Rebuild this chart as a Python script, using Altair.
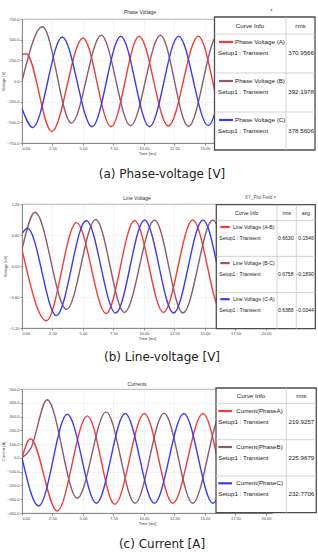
import altair as alt
import pandas as pd

# ---------------- waveform turning points: time [ms], value ----------------
# Phase voltages [V]
pv_a_t = [0.0, 0.35, 2.43, 5.0, 7.3, 9.6, 12.0, 14.46, 16.8, 19.2]
pv_a_v = [321, 330, -612, 521, -553, 541, -545, 541, -545, 541]
pv_b_t = [0.0, 1.68, 4.05, 6.5, 8.9, 11.35, 13.65, 16.05, 18.4]
pv_b_v = [0, 656, -509, 553, -541, 553, -550, 553, -550]
pv_c_t = [0.0, 0.89, 3.3, 5.75, 8.1, 10.45, 12.84, 15.27, 17.6, 20.0]
pv_c_v = [-333, -563, 533, -553, 541, -553, 541, -540, 541, -540]

# Line voltages [kV]
lv_ab_t = [0.0, 2.0, 4.47, 6.9, 9.23, 11.6, 14.0, 16.4, 18.8]
lv_ab_v = [0.32, -1.06, 0.84, -0.92, 0.88, -0.90, 0.89, -0.90, 0.89]
lv_bc_t = [0.0, 1.07, 3.66, 6.04, 8.4, 10.87, 13.2, 15.65, 18.0, 20.4]
lv_bc_v = [0.32, 1.04, -0.84, 0.90, -0.90, 0.89, -0.91, 0.89, -0.90, 0.89]
lv_ca_t = [0.0, 0.45, 2.82, 5.27, 7.68, 10.05, 12.43, 14.84, 17.2, 19.6]
lv_ca_v = [0.63, 0.73, -0.96, 0.88, -0.91, 0.89, -0.91, 0.89, -0.90, 0.89]

# Phase currents [A]
cur_a_t = [0.0, 0.69, 2.88, 5.36, 7.61, 10.03, 12.36, 14.84, 17.2, 19.6]
cur_a_v = [0, 139, -385, 305, -337, 322, -329, 322, -329, 322]
cur_b_t = [0.0, 0.7, 2.06, 4.53, 6.9, 9.27, 11.65, 14.0, 16.4, 18.8]
cur_b_v = [0, 65, 422, -293, 334, -329, 324, -329, 324, -329]
cur_c_t = [0.0, 1.37, 3.71, 6.1, 8.46, 10.85, 13.27, 15.66, 18.0, 20.4]
cur_c_v = [0, -349, 317, -329, 322, -329, 322, -329, 322, -329]

# ---------------- curve-info tables ----------------
pv_names = ["Phase Voltage (A)", "Phase Voltage (B)", "Phase Voltage (C)"]
pv_rms = ["370.9566", "392.1978", "378.5606"]
lv_names = ["Line Voltage (A-B)", "Line Voltage (B-C)", "Line Voltage (C-A)"]
lv_rms = ["0.6630", "0.6758", "0.6388"]
lv_avg = ["0.1546", "-0.1890", "-0.0344"]
cur_names = ["Current(PhaseA)", "Current(PhaseB)", "Current(PhaseC)"]
cur_rms = ["219.9257", "225.9679", "232.7706"]
setup_label = "Setup1 : Transient"

# axis ticks
x_ticks = [0, 2.5, 5, 7.5, 10, 12.5, 15, 17.5, 20]
pv_ticks = [-750, -500, -250, 0, 250, 500, 750]
lv_ticks = [-1.2, -0.6, 0.0, 0.6, 1.2]
cur_ticks = [-400, -300, -200, -100, 0, 100, 200, 300, 400, 500]

COLORS = ["#f03c3c", "#8c5c6c", "#3c3ce8"]
X_DOMAIN = [0, 20.5]
PLOT_W, PLOT_H = 250, 124
UI_FONT = "Liberation Sans"
CAPTION_FONT = "DejaVu Sans"


def waves(names, times, values):
    rows = []
    for name, ts, vs in zip(names, times, values):
        rows += [{"series": name, "t": t, "v": v} for t, v in zip(ts, vs)]
    return pd.DataFrame(rows)


def px_x(field):
    return alt.X(f"{field}:Q", scale=None, axis=None)


def px_y(field):
    return alt.Y(f"{field}:Q", scale=None, axis=None)


def text_layer(rows, size, align="left", color="#222", font=UI_FONT):
    return alt.Chart(pd.DataFrame(rows)).mark_text(
        align=align, baseline="middle", fontSize=size, font=font, color=color
    ).encode(x=px_x("x"), y=px_y("y"), text="label:N")


def table_layers(geo, names, value_cols):
    x1, x2, y1, y2 = geo["box"]
    tops = geo["rows"]
    box = alt.Chart(pd.DataFrame([{"x": x1, "x2": x2, "y": y1, "y2": y2}])).mark_rect(
        fill="white", stroke="#4d4d4d", strokeWidth=1.3
    ).encode(x=px_x("x"), x2="x2:Q", y=px_y("y"), y2="y2:Q")
    seps = [{"x": x1, "x2": x2, "y": y, "y2": y} for y in tops]
    seps += [{"x": c, "x2": c, "y": y1, "y2": y2} for c in geo["cols"]]
    grid = alt.Chart(pd.DataFrame(seps)).mark_rule(color="#c8c8c8", strokeWidth=0.8).encode(
        x=px_x("x"), x2="x2:Q", y=px_y("y"), y2="y2:Q"
    )
    sw = pd.DataFrame([
        {"x": geo["sw"][0], "x2": geo["sw"][1], "y": t + geo["dy1"], "col": c}
        for t, c in zip(tops, COLORS)
    ])
    swatch = alt.Chart(sw).mark_rule(strokeWidth=2.2).encode(
        x=px_x("x"), x2="x2:Q", y=px_y("y"), color=alt.Color("col:N", scale=None)
    )
    fs = geo["font"]
    name_txt = text_layer([{"x": geo["name_x"], "y": t + geo["dy1"], "label": n} for t, n in zip(tops, names)], fs)
    setup_txt = text_layer([{"x": geo["setup_x"], "y": t + geo["dy2"], "label": setup_label} for t in tops], fs)
    layers = [box, grid, swatch, name_txt, setup_txt]
    for xpos, vals in zip(geo["val_x"], value_cols):
        layers.append(text_layer([{"x": xpos, "y": t + geo["dy2"], "label": v} for t, v in zip(tops, vals)], fs, align="right"))
    layers.append(text_layer([{"x": hx, "y": geo["head_y"], "label": h} for h, hx in geo["heads"]], fs, align="center"))
    return layers


def panel(df, names, y_domain, y_ticks, y_fmt, y_title, title, caption, geo, value_cols, extras):
    lines = alt.Chart(df).mark_line(interpolate="monotone", strokeWidth=1.4, clip=True).encode(
        x=alt.X("t:Q", scale=alt.Scale(domain=X_DOMAIN, nice=False, zero=False),
                axis=alt.Axis(values=x_ticks, format=".2f", title="Time [ms]")),
        y=alt.Y("v:Q", scale=alt.Scale(domain=y_domain, nice=False, zero=False),
                axis=alt.Axis(values=y_ticks, format=y_fmt, title=y_title)),
        color=alt.Color("series:N", scale=alt.Scale(domain=names, range=COLORS), legend=None),
    )
    head = text_layer([{"x": title[1], "y": title[2], "label": title[0]}], 5, align="center", color="#333")
    cap = text_layer([{"x": 140, "y": caption[1], "label": caption[0]}], 12, align="center",
                     color="#222", font=CAPTION_FONT)
    layers = [lines] + table_layers(geo, names, value_cols) + [head, cap]
    if extras:
        layers.append(text_layer(extras, 4.5, align="left", color="#555"))
    return alt.layer(*layers).resolve_scale(
        x="independent", y="independent", color="independent"
    ).properties(width=PLOT_W, height=PLOT_H)


geo_a = dict(box=(192.5, 293, -2, 131), cols=[264], rows=[15, 54, 93], sw=(197, 211),
             dy1=8, dy2=19, name_x=213, setup_x=196, val_x=[292],
             heads=[("Curve Info", 228), ("rms", 278.5)], head_y=7, font=6.2)
geo_b = dict(box=(194.3, 293.3, 0.7, 124.7), cols=[255, 274.3], rows=[16.3, 52.4, 88.5], sw=(198.3, 207.7),
             dy1=6.7, dy2=17.7, name_x=211, setup_x=197.3, val_x=[271.5, 291.8],
             heads=[("Curve Info", 224.7), ("rms", 264.7), ("avg", 283.8)], head_y=8.5, font=5.1)
geo_c = dict(box=(194, 294.3, -1, 123.7), cols=[264.3], rows=[14.7, 50.7, 87], sw=(196.3, 210),
             dy1=7.3, dy2=18.3, name_x=214.3, setup_x=196.3, val_x=[292.3],
             heads=[("Curve Info", 229), ("rms", 279.3)], head_y=7, font=6.2)

chart_a = panel(waves(pv_names, [pv_a_t, pv_b_t, pv_c_t], [pv_a_v, pv_b_v, pv_c_v]),
                pv_names, [-750, 750], pv_ticks, ".1f", "Voltage [V]",
                ("Phase Voltage", 118, -7), ("(a) Phase-voltage [V]", 155), geo_a, [pv_rms],
                [{"x": 248, "y": -8, "label": "×"}])
chart_b = panel(waves(lv_names, [lv_ab_t, lv_bc_t, lv_ca_t], [lv_ab_v, lv_bc_v, lv_ca_v]),
                lv_names, [-1.2, 1.2], lv_ticks, ".2f", "Voltage [kV]",
                ("Line Voltage", 115, -6), ("(b) Line-voltage [V]", 153), geo_b, [lv_rms, lv_avg],
                [{"x": 223, "y": -6.3, "label": "XY_Plot Field  ×"}])
chart_c = panel(waves(cur_names, [cur_a_t, cur_b_t, cur_c_t], [cur_a_v, cur_b_v, cur_c_v]),
                cur_names, [-400, 500], cur_ticks, ".1f", "Current [A]",
                ("Currents", 115, -5), ("(c) Current [A]", 155), geo_c, [cur_rms], None)

chart = alt.vconcat(chart_a, chart_b, chart_c, spacing=61, bounds="flush").properties(
    padding={"left": 1, "top": 7, "right": 0, "bottom": 0}
).configure_axis(
    labelFontSize=4, titleFontSize=4, labelFont="Liberation Sans", titleFont="Liberation Sans",
    labelColor="#444", titleColor="#444", titleFontWeight="normal",
    domainColor="#8a8a8a", tickColor="#8a8a8a", tickSize=2, labelPadding=1, titlePadding=1,
    gridColor="#d8d8d8", gridDash=[1, 1], gridWidth=0.6,
).configure_view(stroke="#9a9a9a", strokeWidth=0.8)

chart.save("out.html", embed_options={"renderer": "svg", "actions": False})
